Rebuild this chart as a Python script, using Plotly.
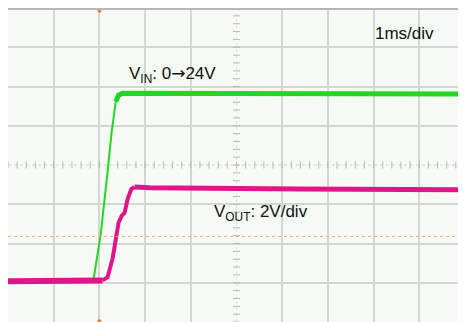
import numpy as np
import plotly.graph_objects as go

t_vin = [0, 1.83, 1.88, 2.03, 2.18, 2.27, 2.36, 2.42, 2.51, 4.0, 7.0, 10.0]
vin = [0, 0, 0.5, 6.0, 14.0, 19.1, 22.9, 23.7, 23.95, 23.95, 23.9, 23.85]

t_vout = [0, 1.94, 2.07, 2.18, 2.29, 2.36, 2.42, 2.49, 2.55, 2.62, 2.70, 2.77, 3.10, 6.37, 10.0]
vout = [0, 0, 0.04, 0.2, 1.16, 2.32, 2.98, 3.34, 3.48, 4.2, 4.7, 4.8, 4.76, 4.7, 4.66]

# channel settings (V/div and ground offset in divisions)
vin_scale, vin_offset = 5.0, 1.04
vout_scale, vout_offset = 2.0, 1.04
trig_time = 2.0
trig_level = 2.18

vin_div = [vin_offset + v / vin_scale for v in vin]
vout_div = [vout_offset + v / vout_scale for v in vout]

GREEN = '#22d622'
MAGENTA = '#e0158c'

fig = go.Figure()

# graticule centre line with minor ticks
fig.add_trace(go.Scatter(x=[0, 10], y=[4, 4], mode='lines',
                         line=dict(color='#cfd3cf', width=1, dash='dot'),
                         hoverinfo='skip', showlegend=False))
fig.add_trace(go.Scatter(x=[5, 5], y=[0, 8], mode='lines',
                         line=dict(color='#dde1dd', width=1, dash='dot'),
                         hoverinfo='skip', showlegend=False))
minor = np.arange(0, 10.01, 0.2)
fig.add_trace(go.Scatter(x=minor, y=[4] * len(minor), mode='markers',
                         marker=dict(symbol='line-ns', size=5, line=dict(color='#b4b8b4', width=1)),
                         hoverinfo='skip', showlegend=False))
minor_y = np.arange(0, 8.01, 0.2)
fig.add_trace(go.Scatter(x=[5] * len(minor_y), y=minor_y, mode='markers',
                         marker=dict(symbol='line-ew', size=5, line=dict(color='#b4b8b4', width=1)),
                         hoverinfo='skip', showlegend=False))

# VIN: thin while rising, thick on the plateau
fig.add_trace(go.Scatter(x=t_vin[:8], y=vin_div[:8], mode='lines',
                         line=dict(color=GREEN, width=2), showlegend=False))
fig.add_trace(go.Scatter(x=t_vin[6:], y=vin_div[6:], mode='lines',
                         line=dict(color=GREEN, width=5), showlegend=False))

# VOUT
fig.add_trace(go.Scatter(x=t_vout[:3], y=vout_div[:3], mode='lines',
                         line=dict(color=MAGENTA, width=6), showlegend=False))
fig.add_trace(go.Scatter(x=t_vout[2:12], y=vout_div[2:12], mode='lines',
                         line=dict(color=MAGENTA, width=4), showlegend=False))
fig.add_trace(go.Scatter(x=t_vout[11:], y=vout_div[11:], mode='lines',
                         line=dict(color=MAGENTA, width=5), showlegend=False))

# trigger level and position markers
fig.add_trace(go.Scatter(x=[0, 10], y=[trig_level, trig_level], mode='lines',
                         line=dict(color='#f0a878', width=1, dash='dot'),
                         hoverinfo='skip', showlegend=False))
fig.add_trace(go.Scatter(x=[trig_time, trig_time], y=[7.93, 0.02], mode='markers',
                         marker=dict(symbol='circle', size=4, color='#f07a50'),
                         cliponaxis=False, hoverinfo='skip', showlegend=False))

fnt = dict(family='Liberation Sans, Arial, sans-serif', size=17, color='#111111')
arrow = '<span style="font-family:DejaVu Sans">→</span>'
fig.add_annotation(x=7.98, y=7.35, text='1ms/div', showarrow=False, xanchor='left', font=fnt)
fig.add_annotation(x=2.6, y=6.3, text='V<sub>IN</sub>: 0' + arrow + '24V', showarrow=False,
                   xanchor='left', font=fnt)
fig.add_annotation(x=4.46, y=2.78, text='V<sub>OUT</sub>: 2V/div', showarrow=False,
                   xanchor='left', font=fnt)

# the page body adds an 8 px margin, so the figure fills the rest of the window
fig.update_layout(
    width=458, height=314,
    margin=dict(l=0, r=0, t=0, b=0),
    paper_bgcolor='white',
    plot_bgcolor='#f5faf4',
    xaxis=dict(range=[0, 9.98], tickvals=[0, 1, 2, 3, 4, 6, 7, 8, 9, 10], showticklabels=False,
               showgrid=True, gridcolor='#d3d7d3', gridwidth=1.5, zeroline=False,
               showline=True, linecolor='#b4b8b4', linewidth=2, mirror=True),
    yaxis=dict(range=[0, 7.95], tickvals=[0, 1, 2, 3, 5, 6, 7, 8], showticklabels=False,
               showgrid=True, gridcolor='#d3d7d3', gridwidth=1.5, zeroline=False,
               showline=True, linecolor='#b4b8b4', linewidth=2, mirror=True),
    showlegend=False,
)

fig.write_html('out.html')
